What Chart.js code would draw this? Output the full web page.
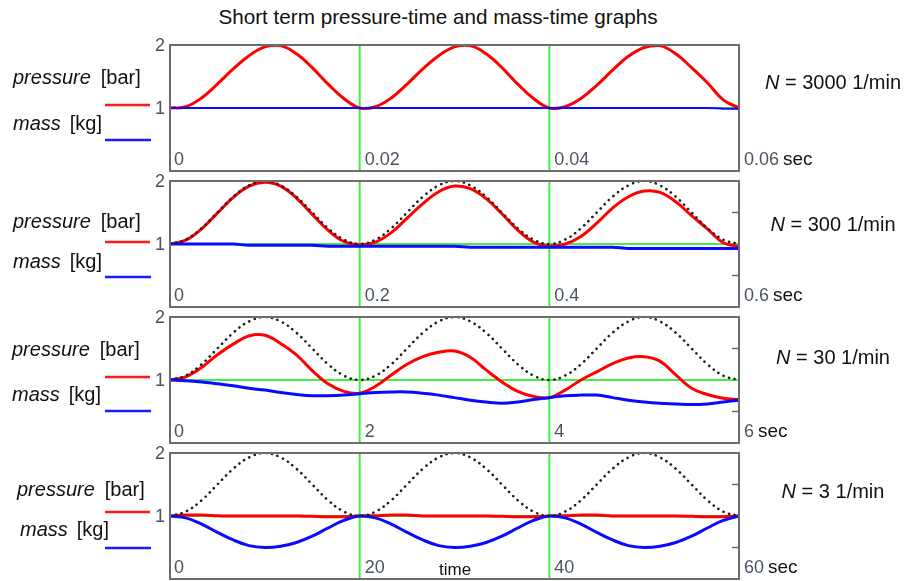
<!DOCTYPE html>
<html><head><meta charset="utf-8">
<script src="https://cdn.jsdelivr.net/npm/chart.js@4/dist/chart.umd.min.js"></script>
<style>
html,body{margin:0;padding:0;background:#fff;}
#wrap{position:relative;width:910px;height:581px;overflow:hidden;font-family:"Liberation Sans",Arial,sans-serif;}
#title{position:absolute;left:0;width:876px;top:5px;line-height:24px;text-align:center;font-size:20.7px;color:#111;}
canvas{position:absolute;left:0;}
</style></head><body>
<div id="wrap">
<div id="title">Short term pressure-time and mass-time graphs</div>
<canvas id="c0" width="910" height="136" style="top:36px"></canvas>
<canvas id="c1" width="910" height="136" style="top:172px"></canvas>
<canvas id="c2" width="910" height="136" style="top:308px"></canvas>
<canvas id="c3" width="910" height="136" style="top:444px"></canvas>
</div>
<script>
// sample steps (1/12 of a cycle each, 3 cycles per panel)
const step = [0,1,2,3,4,5,6,7,8,9,10,11,12,13,14,15,16,17,18,19,20,21,22,23,24,25,26,27,28,29,30,31,32,33,34,35,36];
const gridSteps = [12, 24];
const tickSteps = [0, 12, 24, 36];
const yTickValues = [2, 1];
const yTickLabels = ['2', '1'];

// reference (imposed) pressure, dotted
const referencePressure = [1.00,1.07,1.25,1.50,1.75,1.93,2.00,1.93,1.75,1.50,1.25,1.07,1.00,
  1.07,1.25,1.50,1.75,1.93,2.00,1.93,1.75,1.50,1.25,1.07,1.00,
  1.07,1.25,1.50,1.75,1.93,2.00,1.93,1.75,1.50,1.25,1.07,1.00];

// N = 3000 1/min
const ticks3000 = ['0', '0.02', '0.04', '0.06'];
const pressure3000 = [1.00,1.02,1.16,1.38,1.62,1.83,1.97,1.99,1.86,1.64,1.38,1.15,1.00,
  1.02,1.16,1.38,1.62,1.83,1.97,1.99,1.86,1.64,1.38,1.15,1.00,
  1.02,1.15,1.36,1.60,1.82,1.96,1.99,1.86,1.64,1.40,1.13,1.00];
const mass3000 = [1.00,1.00,1.00,1.00,1.00,1.00,1.00,1.00,1.00,1.00,1.00,1.00,1.00,
  1.00,1.00,1.00,1.00,1.00,1.00,1.00,1.00,1.00,1.00,1.00,1.00,
  1.00,1.00,1.00,1.00,1.00,1.00,1.00,1.00,1.00,1.00,0.99,0.985];

// N = 300 1/min
const ticks300 = ['0', '0.2', '0.4', '0.6'];
const pressure300 = [1.00,1.06,1.24,1.49,1.74,1.92,1.98,1.92,1.73,1.47,1.22,1.04,0.99,
  1.03,1.18,1.41,1.64,1.83,1.92,1.88,1.72,1.48,1.22,1.03,0.97,
  1.00,1.12,1.33,1.57,1.75,1.84,1.82,1.67,1.45,1.24,1.02,0.96];
const mass300 = [1.00,1.00,1.00,1.00,1.00,0.98,0.98,0.98,0.98,0.98,0.965,0.965,0.965,
  0.965,0.965,0.965,0.965,0.965,0.965,0.95,0.95,0.95,0.95,0.95,0.95,
  0.95,0.95,0.95,0.95,0.93,0.93,0.93,0.93,0.93,0.93,0.93,0.93];

// N = 30 1/min
const ticks30 = ['0', '2', '4', '6'];
const pressure30 = [1.00,1.05,1.20,1.40,1.57,1.70,1.71,1.58,1.40,1.15,0.94,0.82,0.79,
  0.90,1.08,1.25,1.37,1.44,1.46,1.36,1.16,0.97,0.82,0.74,0.72,
  0.84,1.00,1.13,1.26,1.35,1.37,1.30,1.08,0.87,0.77,0.71,0.69];
const mass30 = [1.00,0.99,0.97,0.94,0.91,0.87,0.84,0.80,0.77,0.75,0.75,0.76,0.78,
  0.80,0.81,0.81,0.79,0.76,0.72,0.68,0.65,0.63,0.65,0.69,0.72,
  0.75,0.76,0.76,0.72,0.68,0.65,0.63,0.62,0.61,0.62,0.65,0.68];

// N = 3 1/min
const ticks3 = ['0', '20', '40', '60'];
const pressure3 = [1.00,1.015,1.015,1.005,1.00,1.00,1.00,1.00,1.00,0.995,0.99,0.99,1.00,
  1.005,1.015,1.015,1.00,1.00,1.00,1.00,1.00,0.995,0.99,0.99,1.00,
  1.005,1.015,1.015,1.00,1.00,1.00,1.00,1.00,0.995,0.99,0.99,1.00];
const mass3 = [1.00,0.97,0.87,0.74,0.62,0.53,0.50,0.52,0.58,0.68,0.81,0.93,1.00,
  0.97,0.87,0.74,0.62,0.53,0.50,0.52,0.58,0.68,0.81,0.93,1.00,
  0.97,0.87,0.74,0.62,0.53,0.50,0.52,0.58,0.68,0.81,0.93,1.00];

const speeds = ['3000', '300', '30', '3'];

const panels = [
  {id:'c0', n:speeds[0], ticks:ticks3000, pressure:pressure3000, mass:mass3000, ref:false, massW:2, rightTicks:false,
   pSmooth:true, mSmooth:false, leg:{x1:13, x2:13, p:33, r:60, m:79, b:95}, nY:38},
  {id:'c1', n:speeds[1], ticks:ticks300, pressure:pressure300, mass:mass300, ref:true, massW:3, rightTicks:true,
   pSmooth:true, mSmooth:false, leg:{x1:13, x2:13, p:41, r:61, m:81, b:96}, nY:44},
  {id:'c2', n:speeds[2], ticks:ticks30, pressure:pressure30, mass:mass30, ref:true, massW:3, rightTicks:true,
   pSmooth:true, mSmooth:true, leg:{x1:12, x2:12, p:33, r:60, m:78, b:94}, nY:41},
  {id:'c3', n:speeds[3], ticks:ticks3, pressure:pressure3, mass:mass3, ref:true, massW:3, rightTicks:true,
   pSmooth:false, mSmooth:true, leg:{x1:17, x2:20, p:37, r:59, m:77, b:95}, nY:39, timeLabel:true}
];

const FONT = '"Liberation Sans", Arial, sans-serif';
const TICK_COLOR = '#4a5464';

function toXY(arr){ return arr.map((v,i)=>({x:step[i], y:v})); }
function curve(smooth){
  return smooth ? {tension:0.4, cubicInterpolationMode:'default'} : {tension:0, cubicInterpolationMode:'monotone'};
}

function panelPlugin(p){
  return {
    id:'panel_'+p.id,
    beforeDatasetsDraw(chart){
      const {ctx, chartArea:a, scales} = chart;
      const x = scales.x, y = scales.y;
      ctx.save();
      ctx.strokeStyle = '#45ee45';
      ctx.lineWidth = 2;
      gridSteps.forEach(s=>{
        const px = x.getPixelForValue(s);
        ctx.beginPath(); ctx.moveTo(px, a.top); ctx.lineTo(px, a.bottom); ctx.stroke();
      });
      const py = y.getPixelForValue(1);
      ctx.beginPath(); ctx.moveTo(a.left, py); ctx.lineTo(a.right, py); ctx.stroke();
      ctx.restore();
    },
    afterDatasetsDraw(chart){
      const {ctx, chartArea:a, scales} = chart;
      const x = scales.x, y = scales.y;
      ctx.save();
      // frame
      ctx.strokeStyle = '#6c6c6c';
      ctx.lineWidth = 2;
      ctx.strokeRect(a.left, a.top, a.right - a.left, a.bottom - a.top);
      if (p.rightTicks){
        ctx.lineWidth = 1.5;
        [1.5, 0.5].forEach(v=>{
          const py = y.getPixelForValue(v);
          ctx.beginPath(); ctx.moveTo(a.right - 7, py); ctx.lineTo(a.right, py); ctx.stroke();
        });
      }
      // y labels
      ctx.fillStyle = TICK_COLOR;
      ctx.font = '18px ' + FONT;
      ctx.textBaseline = 'middle';
      ctx.textAlign = 'right';
      yTickValues.forEach((v,i)=>{
        ctx.fillText(yTickLabels[i], a.left - 5, y.getPixelForValue(v) + 1.5);
      });
      // x labels
      ctx.textAlign = 'left';
      const ly = a.bottom - 11;
      tickSteps.forEach((s,i)=>{
        const px = x.getPixelForValue(s);
        ctx.fillStyle = TICK_COLOR;
        ctx.font = '18px ' + FONT;
        if (i < tickSteps.length - 1){
          ctx.fillText(p.ticks[i], px + (i === 0 ? 4 : 5), ly);
        } else {
          ctx.fillText(p.ticks[i], px + 5, ly);
          const w = ctx.measureText(p.ticks[i]).width;
          ctx.fillStyle = '#111';
          ctx.font = '19px ' + FONT;
          ctx.fillText('sec', px + 5 + w + 4, ly);
        }
      });
      if (p.timeLabel){
        ctx.fillStyle = '#111';
        ctx.font = '17px ' + FONT;
        ctx.fillText('time', 439, a.bottom - 9);
      }
      // legend (left)
      const L = p.leg;
      ctx.fillStyle = '#111';
      ctx.font = 'italic 20px ' + FONT;
      ctx.fillText('pressure', L.x1, a.top + L.p);
      let w = ctx.measureText('pressure').width;
      ctx.font = '20px ' + FONT;
      ctx.fillText('[bar]', L.x1 + w + 10, a.top + L.p);
      ctx.font = 'italic 20px ' + FONT;
      ctx.fillText('mass', L.x2, a.top + L.m);
      w = ctx.measureText('mass').width;
      ctx.font = '20px ' + FONT;
      ctx.fillText('[kg]', L.x2 + w + 9, a.top + L.m);
      ctx.lineWidth = 2.5;
      ctx.strokeStyle = '#ff1a1a';
      ctx.beginPath(); ctx.moveTo(105, a.top + L.r); ctx.lineTo(150, a.top + L.r); ctx.stroke();
      ctx.strokeStyle = '#1a1aff';
      ctx.beginPath(); ctx.moveTo(105, a.top + L.b); ctx.lineTo(151, a.top + L.b); ctx.stroke();
      // N label (right)
      ctx.font = 'italic 20px ' + FONT;
      const wN = ctx.measureText('N').width;
      ctx.font = '20px ' + FONT;
      const rest = ' = ' + p.n + ' 1/min';
      const wR = ctx.measureText(rest).width;
      const sx = 833 - (wN + wR) / 2;
      ctx.font = 'italic 20px ' + FONT;
      ctx.fillText('N', sx, a.top + p.nY);
      ctx.font = '20px ' + FONT;
      ctx.fillText(rest, sx + wN, a.top + p.nY);
      ctx.restore();
    }
  };
}

panels.forEach(p=>{
  const ds = [
    Object.assign({label:'pressure', data:toXY(p.pressure), borderColor:'#ff0000', borderWidth:3, order:2}, curve(p.pSmooth)),
    Object.assign({label:'mass', data:toXY(p.mass), borderColor:'#0a0aff', borderWidth:p.massW, order:1}, curve(p.mSmooth))
  ];
  if (p.ref){
    ds.push(Object.assign({label:'reference', data:toXY(referencePressure), borderColor:'#1e1e1e', borderWidth:2.6,
      borderDash:[0.1, 5.8], borderCapStyle:'round', order:0}, curve(true)));
  }
  new Chart(document.getElementById(p.id), {
    type:'line',
    data:{datasets:ds},
    options:{
      responsive:false, animation:false, events:[],
      layout:{padding:{left:170, right:171, top:9, bottom:1}},
      elements:{point:{radius:0}, line:{fill:false}},
      plugins:{legend:{display:false}, tooltip:{enabled:false}, title:{display:false}},
      scales:{
        x:{type:'linear', display:false, min:0, max:36},
        y:{type:'linear', display:false, min:0, max:2}
      }
    },
    plugins:[panelPlugin(p)]
  });
});
</script>
</body></html>
